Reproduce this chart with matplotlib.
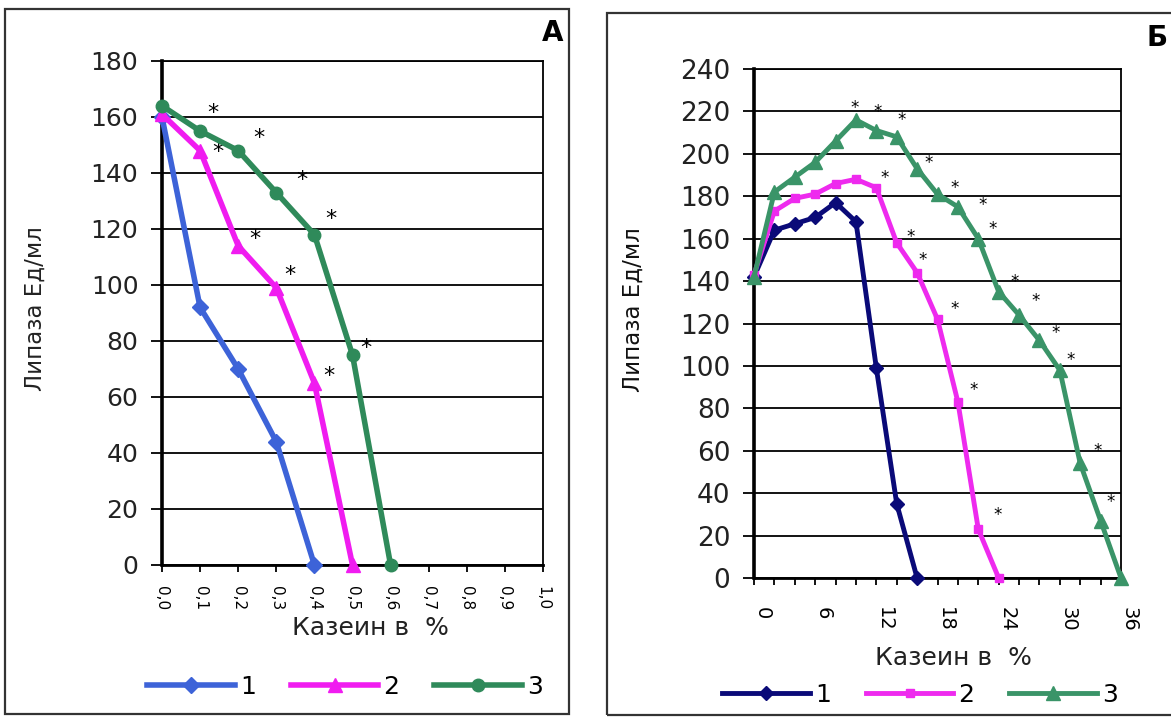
import matplotlib.pyplot as plt
import numpy as np
from matplotlib.patches import Rectangle
from matplotlib.transforms import ScaledTranslation

plt.rcParams['font.family'] = ['DejaVu Sans']

# %% Данные

# А : казеин 0..1 %
x_a = [0.0, 0.1, 0.2, 0.3, 0.4, 0.5, 0.6]
a1 = [160, 92, 70, 44, 0]
a2 = [161, 148, 114, 99, 65, 0]
a3 = [164, 155, 148, 133, 118, 75, 0]
ast_a_x = [0.133, 0.254, 0.148, 0.366, 0.444, 0.245, 0.337, 0.536, 0.439]
ast_a_y = [164, 155, 150, 140, 126, 119, 106, 80, 70]

# Б : казеин 0..36 %
x_b = list(range(0, 37, 2))
b1 = [142, 164, 167, 170, 177, 168, 99, 35, 0]
b2 = [143, 173, 179, 181, 186, 188, 184, 158, 144, 122, 83, 23, 0]
b3 = [142, 182, 189, 196, 206, 216, 211, 208, 193, 181, 175, 160, 135,
      124, 112, 98, 54, 27, 0]
ast_b_x = [9.9, 12.1, 14.5, 17.1, 12.85, 19.7, 22.45, 23.4, 15.4, 16.5,
           25.6, 27.6, 19.7, 29.6, 31.1, 21.5, 33.7, 35.0, 23.9]
ast_b_y = [224, 222, 218, 198, 191, 186, 178, 167, 163, 152,
           142, 133, 129, 118, 105, 91, 62, 38, 32]

ticks_a = [round(v, 1) for v in np.arange(0, 1.01, 0.1)]
ticklabels_a = [f'{v:.1f}'.replace('.', ',') for v in ticks_a]
ticklabels_b = [str(v) if v % 6 == 0 else '' for v in x_b]

legend_labels = ['1', '2', '3']

# %% Figure

fig = plt.figure(figsize=(11.71, 7.17), dpi=100)
W, H = 1171, 717

ax_a = fig.add_axes([162 / W, 1 - 565 / H, 381 / W, 504 / H])
ax_b = fig.add_axes([754 / W, 1 - 578 / H, 367 / W, 509 / H])


def style_axes(ax, ymax, ytick_fs):
    ax.set_ylim(0, ymax)
    ax.set_yticks(range(0, ymax + 1, 20))
    ax.yaxis.grid(True, color='black', lw=1.3)
    ax.set_axisbelow(True)
    for side in ['top', 'right']:
        ax.spines[side].set_linewidth(1.3)
    ax.spines['left'].set_linewidth(2.6)
    ax.spines['bottom'].set_linewidth(2.0)
    ax.tick_params(axis='y', direction='out', length=8, width=1.3,
                   labelsize=ytick_fs, pad=9, colors='black')
    ax.tick_params(axis='y', labelcolor='#222222')


def stars(ax, xs, ys, fs):
    # звёздочки: центр глифа ~0.59 em над базовой линией
    for x, y in zip(xs, ys):
        ax.annotate('*', (x, y), xytext=(0, -0.59 * fs),
                    textcoords='offset points', ha='center', va='baseline',
                    fontsize=fs)


# Панель А
style_axes(ax_a, 180, 18)
ax_a.set_xlim(0, 1.0)
ax_a.set_xticks(ticks_a)
ax_a.set_xticklabels(ticklabels_a, rotation=-90, fontsize=11)
ax_a.tick_params(axis='x', direction='out', length=5, width=1.3, pad=10)

la1, = ax_a.plot(x_a[:len(a1)], a1, color='#3d63d8', lw=4, marker='D',
                 ms=8, clip_on=False, zorder=5)
la2, = ax_a.plot(x_a[:len(a2)], a2, color='#f01cf0', lw=4, marker='^',
                 ms=10.5, clip_on=False, zorder=5)
la3, = ax_a.plot(x_a[:len(a3)], a3, color='#2f8a5a', lw=4, marker='o',
                 ms=9, clip_on=False, zorder=5)

stars(ax_a, ast_a_x, ast_a_y, 16)

fig.text(35 / W, 1 - 309 / H, 'Липаза Ед/мл', rotation=90, ha='center',
         va='center', fontsize=16.5, color='#222222')
fig.text(370 / W, 1 - 628 / H, 'Казеин в  %', ha='center', va='center',
         fontsize=18, color='#222222')
fig.text(553 / W, 1 - 33 / H, 'А', ha='center', va='center', fontsize=20,
         fontweight='bold')

fig.legend([la1, la2, la3], legend_labels, loc='center',
           bbox_to_anchor=(345 / W, 1 - 687 / H), ncol=3, frameon=False,
           fontsize=18, handlelength=3.5, handletextpad=0.2,
           columnspacing=1.4, numpoints=1)

# Панель Б
style_axes(ax_b, 240, 19)
ax_b.set_xlim(0, 36)
ax_b.set_xticks(x_b)
ax_b.set_xticklabels(ticklabels_b, rotation=-90, fontsize=14)
ax_b.tick_params(axis='x', direction='out', length=5, width=1.3, pad=16)
for lbl in ax_b.get_xticklabels():
    lbl.set_transform(lbl.get_transform()
                      + ScaledTranslation(6 / 72, 0, fig.dpi_scale_trans))

lb1, = ax_b.plot(x_b[:len(b1)], b1, color='#0a0a78', lw=3.5, marker='D',
                 ms=7.5, clip_on=False, zorder=5)
lb2, = ax_b.plot(x_b[:len(b2)], b2, color='#ee2aee', lw=3.5, marker='s',
                 ms=5.5, clip_on=False, zorder=5)
lb3, = ax_b.plot(x_b[:len(b3)], b3, color='#3a9468', lw=3.5, marker='^',
                 ms=10.5, clip_on=False, zorder=5)

stars(ax_b, ast_b_x, ast_b_y, 12)

fig.text(633 / W, 1 - 310 / H, 'Липаза Ед/мл', rotation=90, ha='center',
         va='center', fontsize=16.5, color='#111111')
fig.text(953 / W, 1 - 658 / H, 'Казеин в  %', ha='center', va='center',
         fontsize=18, color='#222222')
fig.text(1157 / W, 1 - 38 / H, 'Б', ha='center', va='center', fontsize=20,
         fontweight='bold')

fig.legend([lb1, lb2, lb3], legend_labels, loc='center',
           bbox_to_anchor=(920 / W, 1 - 695 / H), ncol=3, frameon=False,
           fontsize=18, handlelength=3.5, handletextpad=0.2,
           columnspacing=1.4, numpoints=1)

# Рамки вокруг панелей
fig.add_artist(Rectangle((5 / W, 1 - 714 / H), 564 / W, 705 / H,
                         transform=fig.transFigure, fill=False,
                         edgecolor='#333333', lw=1.6))
fig.add_artist(Rectangle((607 / W, 1 - 715 / H), 600 / W, 702 / H,
                         transform=fig.transFigure, fill=False,
                         edgecolor='#333333', lw=1.6))

plt.savefig('out.png', dpi=100)
